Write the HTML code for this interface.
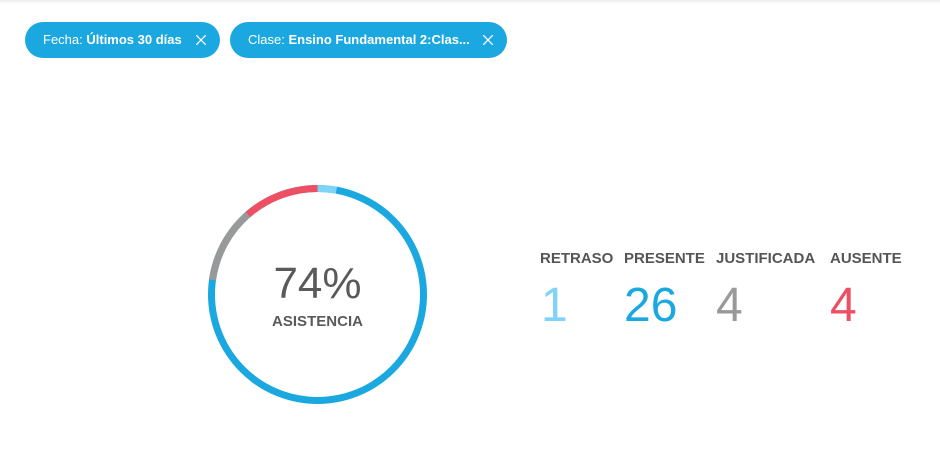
<!DOCTYPE html>
<html><head><style>
body{margin:0;width:940px;height:450px;background:#fff;font-family:"Liberation Sans",sans-serif;position:relative;overflow:hidden}
.top{position:absolute;left:0;top:0;width:940px;height:4px;background:linear-gradient(#eee,#fff)}
.pill{position:absolute;top:22px;height:36px;border-radius:18px;background:#1ba8e0;color:#fff;font-size:13px;line-height:36px;padding-left:18px;box-sizing:border-box;white-space:nowrap}
.pill b{font-weight:bold}
.x{position:absolute;top:13px}
.lab{position:absolute;top:250px;font-size:15px;font-weight:bold;color:#555}
.num{position:absolute;top:280px;font-size:48px;line-height:52px}
</style></head><body>
<div class="top"></div>
<div class="pill" style="left:25px;width:195px">Fecha: <b>Últimos 30 días</b><svg class="x" style="left:171px" width="10" height="10"><path d="M0 0L10 10M10 0L0 10" stroke="#fff" stroke-width="1.3"/></svg></div>
<div class="pill" style="left:230px;width:277px">Clase: <b>Ensino Fundamental 2:Clas...</b><svg class="x" style="left:253px" width="10" height="10"><path d="M0 0L10 10M10 0L0 10" stroke="#fff" stroke-width="1.3"/></svg></div>
<svg style="position:absolute;left:0;top:0" width="940" height="450">
<g transform="rotate(-90 317.5 294.5)" fill="none" stroke-width="7">
<circle cx="317.5" cy="294.5" r="106" stroke="#1ba8e0"/>
<circle cx="317.5" cy="294.5" r="106" stroke="#7fd3f7" stroke-dasharray="19 647"/>
<circle cx="317.5" cy="294.5" r="106" stroke="#999" stroke-dasharray="0 514 76 76" />
<circle cx="317.5" cy="294.5" r="106" stroke="#ee4f63" stroke-dasharray="0 590 76 0"/>
</g>
<text x="317.5" y="298" text-anchor="middle" font-size="44" fill="#5a5a5a" font-family="Liberation Sans">74%</text>
<text x="317.5" y="326" text-anchor="middle" font-size="15" font-weight="bold" fill="#5a5a5a" font-family="Liberation Sans" textLength="91">ASISTENCIA</text>
</svg>
<div class="lab" style="left:540px">RETRASO</div>
<div class="lab" style="left:624px">PRESENTE</div>
<div class="lab" style="left:716px">JUSTIFICADA</div>
<div class="lab" style="left:830px">AUSENTE</div>
<div class="num" style="left:541px;color:#7fd3f7">1</div>
<div class="num" style="left:624px;color:#1ba8e0">26</div>
<div class="num" style="left:716px;color:#999">4</div>
<div class="num" style="left:830px;color:#ee4f63">4</div>
</body></html>
